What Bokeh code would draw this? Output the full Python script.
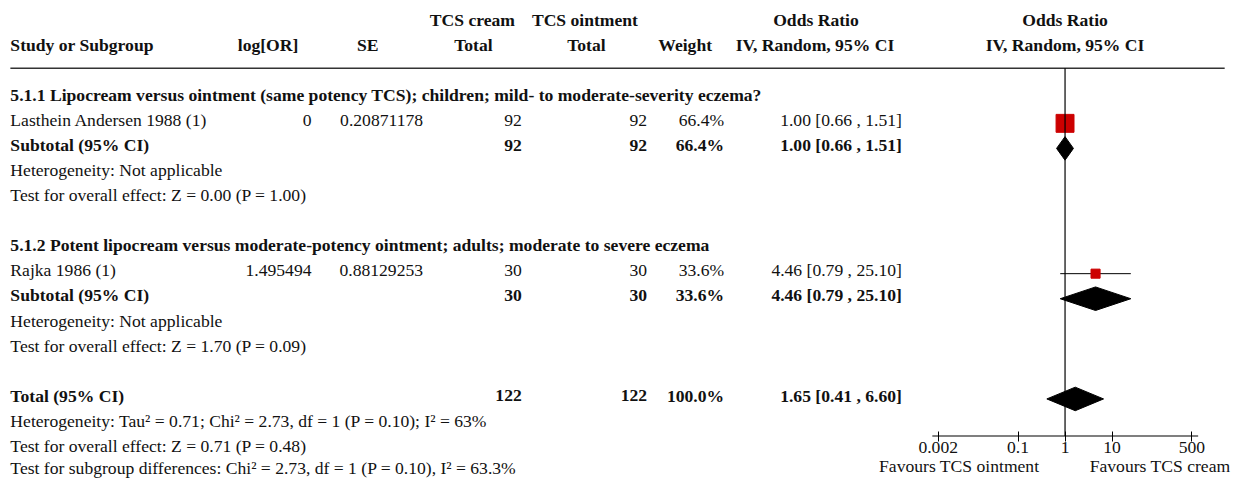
from bokeh.plotting import figure
from bokeh.models import (Range1d, LogScale, LogAxis, FixedTicker,
                          CustomJSTickFormatter, ColumnDataSource)
from bokeh.core.properties import value
from bokeh.embed import file_html
from bokeh.resources import INLINE

# ---------------- data ----------------
groups = ["5.1.1 Lipocream versus ointment (same potency TCS); children; mild- to moderate-severity eczema?",
          "5.1.2 Potent lipocream versus moderate-potency ointment; adults; moderate to severe eczema"]
study = ["Lasthein Andersen 1988 (1)", "Rajka 1986 (1)"]
log_or = [0, 1.495494]
se = [0.20871178, 0.88129253]
n_cream = [92, 30]
n_oint = [92, 30]
weight = [66.4, 33.6]
or_est = [1.00, 4.46]
or_lo = [0.66, 0.79]
or_hi = [1.51, 25.10]

sub_cream = [92, 30]
sub_oint = [92, 30]
sub_weight = [66.4, 33.6]
sub_est = [1.00, 4.46]
sub_lo = [0.66, 0.79]
sub_hi = [1.51, 25.10]
sub_het = ["Heterogeneity: Not applicable", "Heterogeneity: Not applicable"]
sub_test = ["Test for overall effect: Z = 0.00 (P = 1.00)",
            "Test for overall effect: Z = 1.70 (P = 0.09)"]

total_cream = 122
total_oint = 122
total_weight = 100.0
total_est, total_lo, total_hi = 1.65, 0.41, 6.60
total_het = "Heterogeneity: Tau\u00b2 = 0.71; Chi\u00b2 = 2.73, df = 1 (P = 0.10); I\u00b2 = 63%"
total_test = "Test for overall effect: Z = 0.71 (P = 0.48)"
subgroup_test = "Test for subgroup differences: Chi\u00b2 = 2.73, df = 1 (P = 0.10), I\u00b2 = 63.3%"

axis_ticks = [0.002, 0.1, 1, 10, 500]
favours = ["Favours TCS ointment", "Favours TCS cream"]

# ---------------- layout ----------------
W, H = 1238, 479
REF_W, REF_H = 1254, 495               # design canvas (scaled onto W x H)
SX, SY = W / REF_W, H / REF_H
FONT = value("Liberation Serif")
FS = value("17.6px")
TXT = "#111111"

ROW0, ROW_PX = 97.7, 25.89             # design px of row 0, design px per row
y_top = -ROW0 / ROW_PX
y_bot = (REF_H - ROW0) / ROW_PX

ONE_X, DEC_PX = 1078.3, 47.6           # design px of OR = 1, px per decade
or_start = 10 ** (-ONE_X / DEC_PX)
or_end = 10 ** ((REF_W - ONE_X) / DEC_PX)

# row slots
R_HEAD1, R_HEAD2, R_RULE = -3, -2, -1.07
R_GROUP = [0, 6]
R_STUDY = [1, 7]
R_SUB = [2, 8]
R_HET = [3, 9]
R_TEST = [4, 10]
R_TOTAL = 12
R_THET, R_TTEST, R_SGTEST = 13, 14, 14.9
R_AXIS = 13.61
R_FAV = 14.8
MK = 0.13        # marker offset (rows)
DH = 0.47        # diamond half-height (rows)

# column x (design px)
X_NAME = 10
X_LOG, X_SE, X_CREAM, X_OINT, X_W, X_OR = 315, 428, 528, 655, 733, 913

p = figure(width=W, height=H, x_range=Range1d(0, REF_W), y_range=Range1d(y_bot, y_top),
           x_axis_location=None, y_axis_location=None,
           output_backend="svg", toolbar_location=None, min_border=0,
           outline_line_color=None, background_fill_color="white")
p.grid.visible = False
p.extra_x_ranges = {"or": Range1d(or_start, or_end)}
p.extra_x_scales = {"or": LogScale()}


def txt(xs, ys, texts, align="left", bold=False, rng=None, x_offset=0):
    kw = dict(x="x", y="y", text="t", text_font=FONT, text_font_size=FS,
              text_align=align, text_baseline="middle", text_color=TXT,
              text_font_style="bold" if bold else "normal", x_offset=x_offset)
    if rng:
        kw["x_range_name"] = rng
    p.text(source=ColumnDataSource(dict(x=xs, y=ys, t=texts)), **kw)


def fmt_or(e, l, h):
    return f"{e:.2f} [{l:.2f} , {h:.2f}]"


# headers
txt([478, 592, 826], [R_HEAD1] * 3, ["TCS cream", "TCS ointment", "Odds Ratio"], "center", True)
txt([1], [R_HEAD1], ["Odds Ratio"], "center", True, rng="or")
txt([X_NAME], [R_HEAD2], ["Study or Subgroup"], "left", True)
txt([271, 372, 479, 593.5, 693.5, 825],
    [R_HEAD2] * 6, ["log[OR]", "SE", "Total", "Total", "Weight", "IV, Random, 95% CI"], "center", True)
txt([1], [R_HEAD2], ["IV, Random, 95% CI"], "center", True, rng="or")

# rule
p.segment(x0=[X_NAME], x1=[1240], y0=[R_RULE], y1=[R_RULE], line_color="#333333", line_width=1.3)

# groups
txt([X_NAME] * 2, R_GROUP, groups, "left", True)
txt([X_NAME] * 2, R_STUDY, study, "left")
txt([X_LOG] * 2, R_STUDY, [str(v) for v in log_or], "right")
txt([X_SE] * 2, R_STUDY, [str(v) for v in se], "right")
txt([X_CREAM] * 2, R_STUDY, [str(v) for v in n_cream], "right")
txt([X_OINT] * 2, R_STUDY, [str(v) for v in n_oint], "right")
txt([X_W] * 2, R_STUDY, [f"{v:.1f}%" for v in weight], "right")
txt([X_OR] * 2, R_STUDY, [fmt_or(*t) for t in zip(or_est, or_lo, or_hi)], "right")

txt([X_NAME] * 2, R_SUB, ["Subtotal (95% CI)"] * 2, "left", True)
txt([X_CREAM] * 2, R_SUB, [str(v) for v in sub_cream], "right", True)
txt([X_OINT] * 2, R_SUB, [str(v) for v in sub_oint], "right", True)
txt([X_W] * 2, R_SUB, [f"{v:.1f}%" for v in sub_weight], "right", True)
txt([X_OR] * 2, R_SUB, [fmt_or(*t) for t in zip(sub_est, sub_lo, sub_hi)], "right", True)
txt([X_NAME] * 2, R_HET, sub_het, "left")
txt([X_NAME] * 2, R_TEST, sub_test, "left")

# total
txt([X_NAME], [R_TOTAL], ["Total (95% CI)"], "left", True)
txt([X_CREAM, X_OINT, X_W, X_OR], [R_TOTAL] * 4,
    [str(total_cream), str(total_oint), f"{total_weight:.1f}%", fmt_or(total_est, total_lo, total_hi)],
    "right", True)
txt([X_NAME] * 3, [R_THET, R_TTEST, R_SGTEST], [total_het, total_test, subgroup_test], "left")

# ---------------- forest part ----------------
ys_study = [r + MK for r in R_STUDY]
p.segment(x0=or_lo, x1=or_hi, y0=ys_study, y1=ys_study, line_color="black", line_width=1,
          x_range_name="or")
p.scatter(x=or_est, y=ys_study, size=[w * 0.27 for w in weight], marker="square",
          fill_color="#cc0000", line_color="#cc0000", x_range_name="or")

d_xs, d_ys = [], []
for e, l, h, r in zip(sub_est + [total_est], sub_lo + [total_lo], sub_hi + [total_hi],
                      R_SUB + [R_TOTAL]):
    d_xs.append([l, e, h, e])
    d_ys.append([r + MK, r + MK - DH, r + MK, r + MK + DH])
p.patches(xs=d_xs, ys=d_ys, fill_color="black", line_color="black", x_range_name="or")

# line of no effect
p.segment(x0=[1], x1=[1], y0=[R_RULE], y1=[R_AXIS], line_color="black", line_width=1.2,
          x_range_name="or")

# axis
p.segment(x0=[0.0015], x1=[680], y0=[R_AXIS], y1=[R_AXIS], line_color="black", line_width=1.2,
          x_range_name="or")
ax = LogAxis(x_range_name="or", ticker=FixedTicker(ticks=axis_ticks),
             formatter=CustomJSTickFormatter(code="return tick.toString();"),
             fixed_location=R_AXIS, axis_line_color=None,
             major_tick_in=5, major_tick_out=5, major_tick_line_color="black",
             minor_tick_line_color=None, major_label_standoff=1,
             major_label_text_font="Liberation Serif", major_label_text_font_size="17.6px",
             major_label_text_color=TXT)
p.add_layout(ax, "below")

txt([1], [R_FAV], [favours[0]], "right", rng="or", x_offset=-26 * SX)
txt([1], [R_FAV], [favours[1]], "left", rng="or", x_offset=25 * SX)

open("out.html", "w").write(file_html(p, INLINE))
